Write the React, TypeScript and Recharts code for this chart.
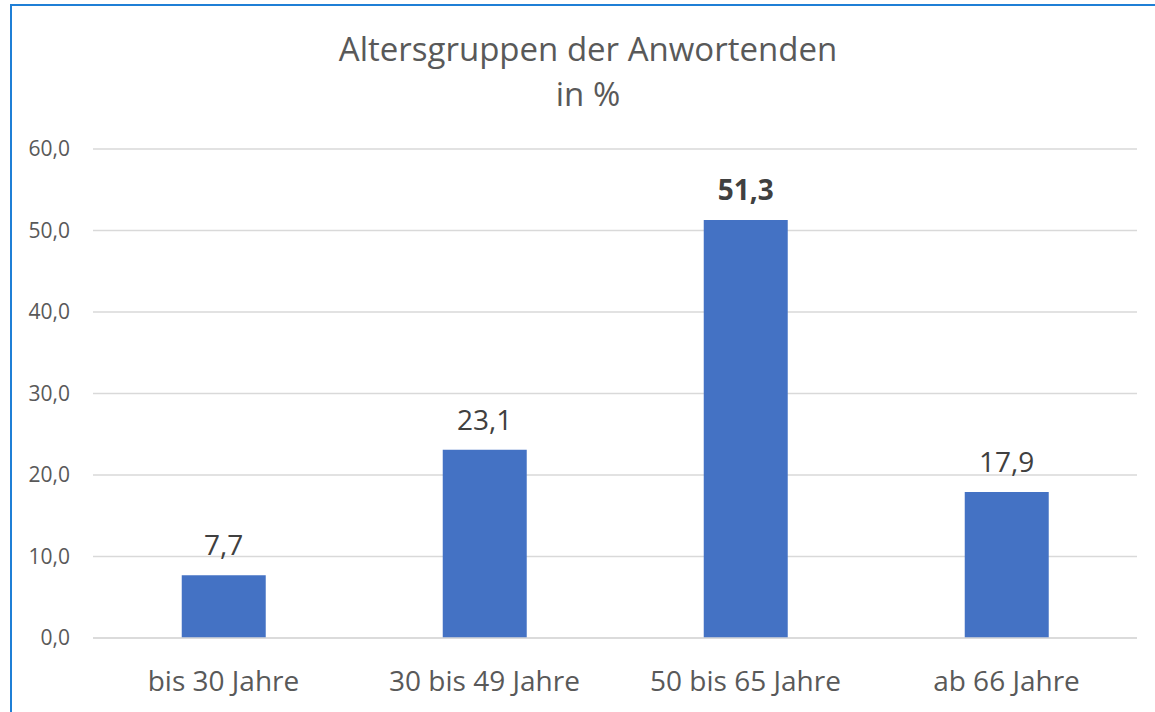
import { BarChart, Bar, XAxis, YAxis, CartesianGrid, LabelList } from 'recharts';

const categories = ['bis 30 Jahre', '30 bis 49 Jahre', '50 bis 65 Jahre', 'ab 66 Jahre'];
const shares = [7.7, 23.1, 51.3, 17.9];
const yTicks = [0, 10, 20, 30, 40, 50, 60];

const data = categories.map((name, i) => ({ name, value: shares[i] }));
const maxValue = Math.max(...shares);

const FONT = '"Open Sans", "Noto Sans", sans-serif';
const fmt = (v: number) => v.toFixed(1).replace('.', ',');

const renderLabel = (props: any) => {
  const { x, y, width, value } = props;
  const bold = value === maxValue;
  return (
    <text
      x={x + width / 2}
      y={y - 20}
      textAnchor="middle"
      fontSize={28}
      fontFamily={FONT}
      fontWeight={bold ? 700 : 400}
      fill="#404040"
    >
      {fmt(value)}
    </text>
  );
};

export default function App() {
  return (
    <div
      style={{
        position: 'fixed',
        left: 0,
        top: 0,
        width: 1155,
        height: 712,
        background: '#fff',
        overflow: 'hidden',
        fontFamily: FONT,
      }}
    >
      <div
        style={{
          position: 'absolute',
          left: 10,
          top: 4,
          width: 1200,
          height: 760,
          borderTop: '2px solid #1f7fd6',
          borderLeft: '2px solid #1f7fd6',
        }}
      />
      <div
        style={{
          position: 'absolute',
          left: 0,
          width: 1176,
          top: 26,
          textAlign: 'center',
          color: '#595959',
          fontSize: 33,
          lineHeight: '45px',
        }}
      >
        Altersgruppen der Anwortenden
        <br />
        in %
      </div>
      <div style={{ position: 'absolute', left: 0, top: 0 }}>
        <BarChart
          width={1155}
          height={712}
          data={data}
          margin={{ top: 149, right: 18, left: 0, bottom: 0 }}
          barCategoryGap="34%"
        >
          <CartesianGrid vertical={false} stroke="#d9d9d9" strokeWidth={1.5} />
          <XAxis
            dataKey="name"
            height={74}
            axisLine={{ stroke: '#d9d9d9', strokeWidth: 1.5 }}
            tickLine={false}
            tickSize={0}
            tickMargin={33}
            tick={{ fill: '#595959', fontSize: 28, fontFamily: FONT }}
          />
          <YAxis
            width={93}
            domain={[0, 60]}
            ticks={yTicks}
            axisLine={false}
            tickLine={false}
            tickSize={0}
            tickMargin={23}
            tickFormatter={fmt}
            fontSize={21}
            tick={{ fill: '#595959', fontSize: 21, fontFamily: FONT }}
          />
          <Bar dataKey="value" fill="#4472c4" isAnimationActive={false}>
            <LabelList dataKey="value" content={renderLabel} />
          </Bar>
        </BarChart>
      </div>
    </div>
  );
}
